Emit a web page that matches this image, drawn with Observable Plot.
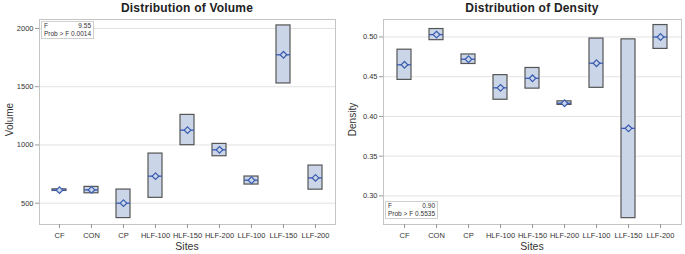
<!DOCTYPE html>
<html><head><meta charset="utf-8">
<script src="https://cdn.jsdelivr.net/npm/d3@7"></script>
<script src="https://cdn.jsdelivr.net/npm/@observablehq/plot@0.6"></script>
<style>
body{margin:0;background:#fff;font-family:"Liberation Sans",Arial,sans-serif;}
#wrap{position:relative;width:685px;height:254px;overflow:hidden;background:#fff}
.panel{position:absolute;top:0;height:254px}
.title{position:absolute;top:1px;font-weight:bold;font-size:12px;color:#222;text-align:center;white-space:nowrap;letter-spacing:0.2px}
.xlab{position:absolute;top:240px;font-size:10.5px;color:#333;text-align:center}
.ylab{position:absolute;font-size:10px;color:#333;transform:rotate(-90deg);transform-origin:center;white-space:nowrap;text-align:center;width:60px}
.stat{position:absolute;border:1px solid #d0d0d0;background:#fff;font-size:6.5px;color:#333;line-height:8px;padding:0 2px;box-sizing:border-box}
.stat div{display:flex;justify-content:space-between}
</style></head><body>
<div id="wrap"></div>
<script>
const sites = ["CF","CON","CP","HLF-100","HLF-150","HLF-200","LLF-100","LLF-150","LLF-200"];
// Volume
const volQ1 = [605, 585, 372, 546, 998, 903, 660, 1528, 616];
const volQ3 = [619, 640, 617, 926, 1258, 1009, 729, 2026, 823];
const volMedian = [612, 614, 500, 732, 1127, 958, 697, 1774, 717];
const volMean = [612, 614, 500, 732, 1127, 958, 697, 1774, 717];
const volTicks = [500, 1000, 1500, 2000];
const volStat = {F: "9.55", p: "0.0014"};
// Density
const denQ1 = [0.446, 0.496, 0.466, 0.421, 0.435, 0.4145, 0.436, 0.272, 0.485];
const denQ3 = [0.484, 0.510, 0.478, 0.452, 0.461, 0.419, 0.498, 0.497, 0.515];
const denMedian = [0.465, 0.503, 0.472, 0.436, 0.448, 0.4166, 0.467, 0.385, 0.500];
const denMean = [0.465, 0.503, 0.472, 0.436, 0.448, 0.4166, 0.467, 0.385, 0.500];
const denTicks = [0.30, 0.35, 0.40, 0.45, 0.50];
const denStat = {F: "0.90", p: "0.5535"};

const wrap = document.getElementById("wrap");

function panel(o){
  const data = sites.map((s,i)=>({site:s,q1:o.q1[i],q3:o.q3[i],med:o.med[i],mean:o.mean[i]}));
  const chart = Plot.plot({
    width: o.width, height: 254,
    marginTop: 19, marginBottom: 30, marginLeft: o.ml, marginRight: o.mr,
    style: {fontFamily: "'Liberation Sans', Arial, sans-serif", fontSize: "7.5px", color: "#333", background: "white"},
    x: {type: "band", domain: sites, paddingInner: 0.57, paddingOuter: 0.365, label: null},
    y: {domain: o.ydomain, label: null},
    marks: [
      Plot.gridY(o.ticks, {stroke: "#e2e2e2", strokeOpacity: 1}),
      Plot.frame({stroke: "#c4c4c4"}),
      Plot.barY(data, {x: "site", y1: "q1", y2: "q3", fill: "#cad5e7", stroke: "#555", strokeWidth: 1.2}),
      Plot.tickY(data, {x: "site", y: "med", stroke: "#3a5cb0", strokeWidth: 1.3}),
      Plot.dot(data, {x: "site", y: "mean", symbol: "diamond2", r: 3, stroke: "#3a5cb0", fill: "#cad5e7", strokeWidth: 1.2}),
      Plot.axisY(o.ticks, {tickFormat: o.fmt, tickSize: 4, tickPadding: 2, stroke: "#999", label: null}),
      Plot.axisX({tickSize: 4, tickPadding: 4, stroke: "#999", label: null})
    ]
  });
  const div = document.createElement("div");
  div.className = "panel";
  div.style.left = o.left + "px";
  div.style.width = o.width + "px";
  div.appendChild(chart);
  const fl = o.ml, fr = o.width - o.mr, fc = (fl + fr) / 2;
  const t = document.createElement("div");
  t.className = "title"; t.textContent = o.title;
  t.style.left = (fc - 100) + "px"; t.style.width = "200px";
  div.appendChild(t);
  const xl = document.createElement("div");
  xl.className = "xlab"; xl.textContent = "Sites";
  xl.style.left = (fc - 30) + "px"; xl.style.width = "60px";
  div.appendChild(xl);
  const yl = document.createElement("div");
  yl.className = "ylab"; yl.textContent = o.ylabel;
  yl.style.left = (o.ylx - 30) + "px"; yl.style.top = "114px";
  div.appendChild(yl);
  const st = document.createElement("div");
  st.className = "stat";
  st.style.left = o.stat.x + "px"; st.style.top = o.stat.y + "px";
  st.style.width = o.stat.w + "px";
  st.innerHTML = `<div><span>F</span><span>${o.stat.F}</span></div><div><span>Prob &gt; F</span><span>${o.stat.p}</span></div>`;
  div.appendChild(st);
  wrap.appendChild(div);
}

panel({left: 0, width: 340, ml: 39, mr: 5, q1: volQ1, q3: volQ3, med: volMedian, mean: volMean,
  ydomain: [317, 2077], ticks: volTicks, fmt: d3.format("d"), title: "Distribution of Volume",
  ylabel: "Volume", ylx: 9, stat: {x: 41, y: 21, w: 53, F: volStat.F, p: volStat.p}});
panel({left: 340, width: 345, ml: 43, mr: 4, q1: denQ1, q3: denQ3, med: denMedian, mean: denMean,
  ydomain: [0.264, 0.522], ticks: denTicks, fmt: d3.format(".2f"), title: "Distribution of Density",
  ylabel: "Density", ylx: 12, stat: {x: 45, y: 201, w: 53, F: denStat.F, p: denStat.p}});
</script>
</body></html>
